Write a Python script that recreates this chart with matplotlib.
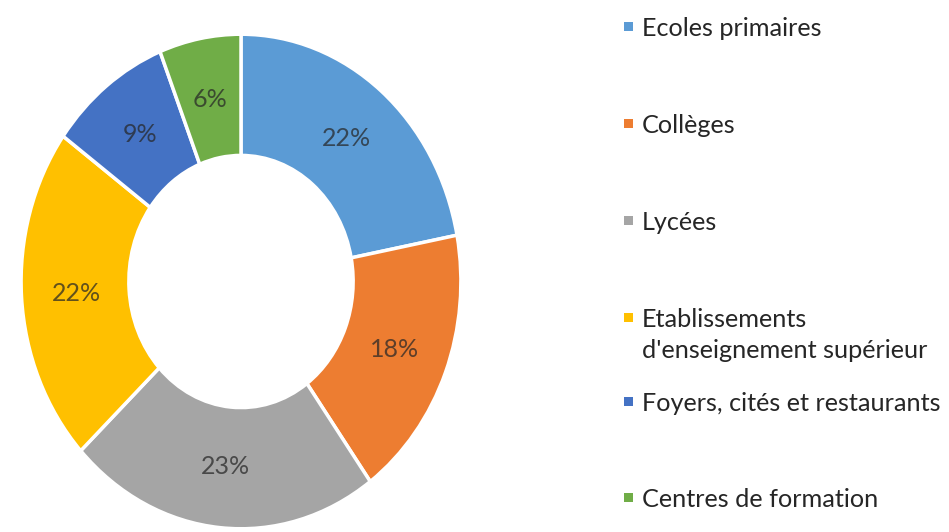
import matplotlib
matplotlib.use("Agg")
import matplotlib.pyplot as plt
from matplotlib.patches import Rectangle

categories = ["Ecoles primaires", "Collèges", "Lycées",
              "Etablissements\nd'enseignement supérieur",
              "Foyers, cités et restaurants", "Centres de formation"]
values = [22, 18, 23, 22, 9, 6]
colors = ["#5B9BD5", "#ED7D31", "#A5A5A5", "#FFC000", "#4472C4", "#70AD47"]

W, H = 949, 532
fig = plt.figure(figsize=(W / 100, H / 100), dpi=100)
fig.patch.set_facecolor("white")

# donut axes (elliptical, stretched vertically)
x0, x1, y0, y1 = 20, 462, 33, 530
ax = fig.add_axes([x0 / W, 1 - y1 / H, (x1 - x0) / W, (y1 - y0) / H])
wedges, texts = ax.pie(values, colors=colors, startangle=90, counterclock=False,
                       radius=1.0, labels=[f"{v}%" for v in values],
                       labeldistance=0.75,
                       wedgeprops=dict(width=0.49, edgecolor="white", linewidth=2.5),
                       textprops=dict(fontsize=18, family="Lato", color="#262626", alpha=0.72))
for t in texts:
    t.set_ha("center")
    t.set_va("center")
ax.set_aspect("auto")
ax.set_xlim(-1.005, 1.005)
ax.set_ylim(-1.005, 1.005)
ax.axis("off")

# legend drawn manually
sq_x = 628
txt_x = 642
sq_y = [26, 123, 220, 317, 401, 497]
sq = 9
for cat, col, yy in zip(categories, colors, sq_y):
    fig.patches.append(Rectangle(((sq_x - sq / 2) / W, 1 - (yy + sq / 2) / H),
                                 sq / W, sq / H, transform=fig.transFigure,
                                 facecolor=col, edgecolor="none"))
    fig.text(txt_x / W, 1 - (yy - 9) / H, cat, ha="left", va="top",
             fontsize=18.2, family="Lato", color="#262626", linespacing=1.4)

fig.savefig("out.png", dpi=100, facecolor="white")
